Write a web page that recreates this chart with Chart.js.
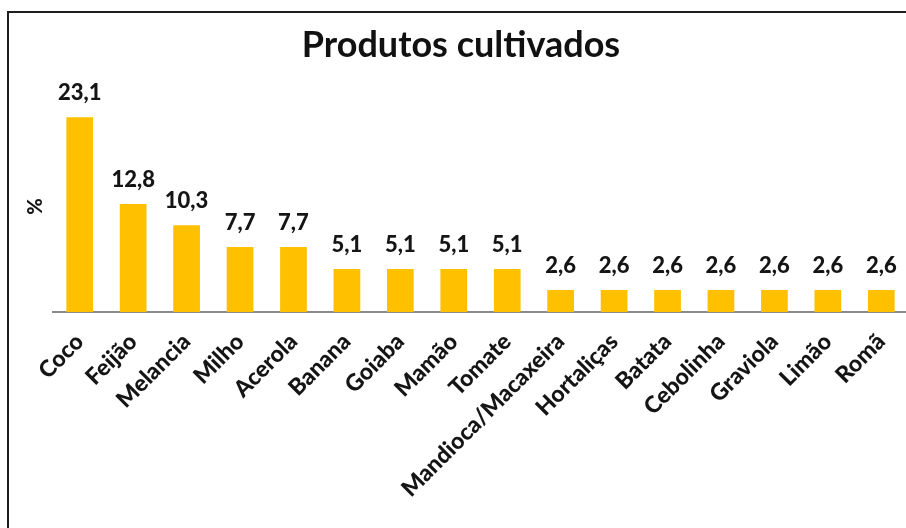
<!DOCTYPE html>
<html><head><meta charset="utf-8">
<script src="https://cdn.jsdelivr.net/npm/chart.js@4/dist/chart.umd.min.js"></script>
<style>
html,body{margin:0;padding:0;background:#fff;overflow:hidden;width:906px;height:528px}
#wrap{position:absolute;left:0;top:0;width:920px;height:528px}
#frame{position:absolute;left:7px;top:11px;width:1000px;height:600px;border-left:2px solid #1e1e1e;border-top:2px solid #1e1e1e;pointer-events:none}
</style></head><body>
<div id="wrap"><canvas id="c"></canvas></div><div id="frame"></div>
<script>
const titleText = 'Produtos cultivados';
const yTitle = '%';
const categories = ['Coco','Feijão','Melancia','Milho','Acerola','Banana','Goiaba','Mamão','Tomate','Mandioca/Macaxeira','Hortaliças','Batata','Cebolinha','Graviola','Limão','Romã'];
const values = [23.1,12.8,10.3,7.7,7.7,5.1,5.1,5.1,5.1,2.6,2.6,2.6,2.6,2.6,2.6,2.6];

const fmt = v => v.toFixed(1).replace('.', ',');

const valueLabels = {
  id: 'valueLabels',
  afterDatasetsDraw(chart) {
    const ctx = chart.ctx;
    const meta = chart.getDatasetMeta(0);
    ctx.save();
    ctx.font = '900 22px Lato';
    ctx.fillStyle = '#151515';
    ctx.textAlign = 'center';
    ctx.textBaseline = 'alphabetic';
    meta.data.forEach((bar, i) => {
      ctx.fillText(fmt(values[i]), bar.x, bar.y - 17);
    });
    ctx.restore();
  }
};

new Chart(document.getElementById('c'), {
  type: 'bar',
  data: {
    labels: categories,
    datasets: [{
      data: values,
      backgroundColor: '#FFC000',
      borderWidth: 0,
      categoryPercentage: 1,
      barPercentage: 0.5
    }]
  },
  options: {
    responsive: true,
    maintainAspectRatio: false,
    animation: false,
    devicePixelRatio: 1,
    layout: { padding: { left: 14, right: 12, top: 0, bottom: 0 } },
    plugins: {
      legend: { display: false },
      tooltip: { enabled: false },
      title: {
        display: true,
        text: titleText,
        color: '#111',
        font: { family: 'Lato', size: 36, weight: 'bold' },
        padding: { top: 24, bottom: 34 }
      }
    },
    scales: {
      x: {
        grid: { display: false },
        border: { display: true, color: '#8a8a8a', width: 2 },
        ticks: {
          color: '#151515',
          font: { family: 'Lato', size: 23, weight: '900' },
          maxRotation: 45,
          minRotation: 45,
          autoSkip: false,
          padding: 8
        },
        afterFit(axis) { axis.height = 216; }
      },
      y: {
        min: 0,
        max: 25,
        grid: { display: false },
        border: { display: false },
        ticks: { display: false },
        title: {
          display: true,
          text: yTitle,
          color: '#151515',
          font: { family: 'Lato', size: 20, weight: '900' },
          padding: { top: 10, bottom: 0 }
        },
        afterFit(axis) { axis.width = 39; }
      }
    }
  },
  plugins: [valueLabels]
});
</script>
</body></html>
